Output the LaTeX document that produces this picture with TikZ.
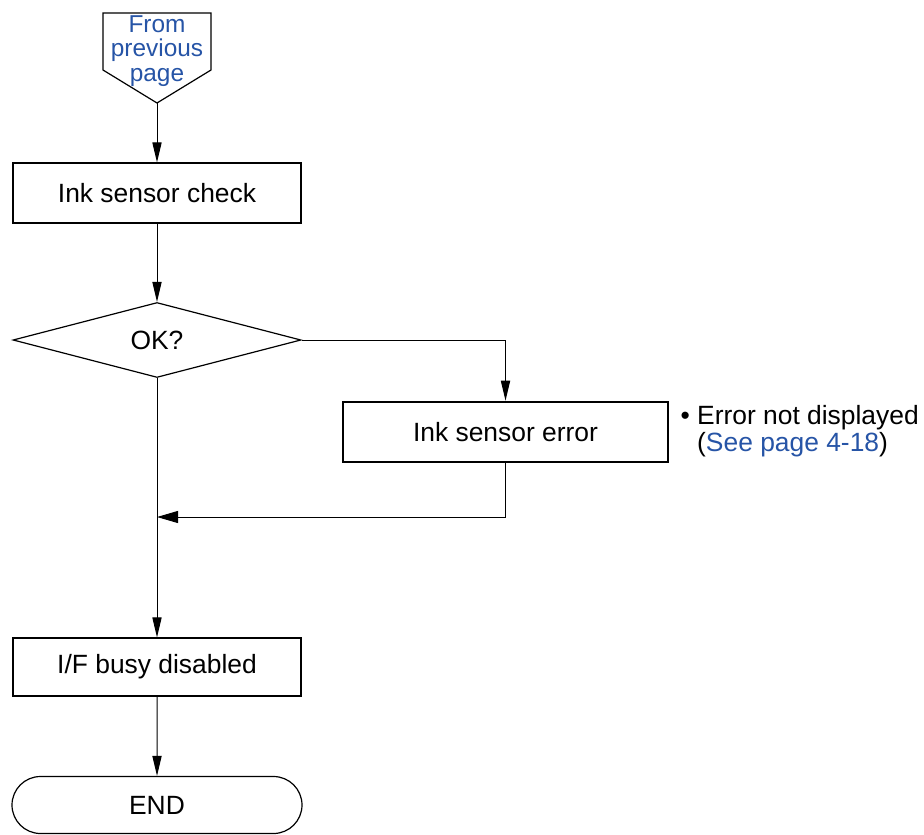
\documentclass[tikz,border=0pt]{standalone}
\usepackage{fontspec}
\setmainfont{Liberation Sans}
\usetikzlibrary{shapes.geometric,shapes.misc,arrows.meta}
\definecolor{linkblue}{RGB}{38,84,166}
\begin{document}
\begin{tikzpicture}[
       x=0.5pt,y=-0.5pt,
       line width=0.6pt,
       font=\fontsize{13.2}{12.3}\selectfont,
       flow/.style={
         -{Triangle[length=10pt,width=4.6pt]},
         line width=0.5pt
       },
       stepbox/.style={
         rectangle,
         draw,
         inner sep=0pt,
         minimum width=144pt,
         minimum height=30pt
       },
       test/.style={
         diamond,
         draw,
         inner sep=0pt,
         minimum width=144pt,
         minimum height=37.5pt
       },
       term/.style={
         rounded rectangle,
         draw,
         inner sep=0pt,
         minimum width=145pt,
         minimum height=28.5pt
       }
     ]

       \useasboundingbox (0,0) rectangle (924,834);

       % connector from previous page
       \draw (103,13) -- (211,13) -- (211,70) -- (157,103) -- (103,70) -- cycle;
       \node (prev) at (157,51) [align=center,text=linkblue,font=\fontsize{12.2}{12.3}\selectfont]{From\\previous\\page};
       \coordinate (tip) at (157,103);

       \node (chk) at (157,193) [stepbox]{Ink sensor check};
       \node (ok) at (157,340) [test]{OK?};
       \node (err) at (505.5,432) [stepbox,minimum width=162.5pt,line width=1.3pt]{Ink sensor error};
       \node (note) at (680,431) [anchor=west,align=left,inner sep=0pt]
         {\textbullet\ Error not displayed\\
          \phantom{\textbullet\ }(\textcolor{linkblue}{See page 4-18})};
       \coordinate (join) at (157,517);
       \node (busy) at (157,667) [stepbox,minimum height=29pt]{I/F busy disabled};
       \node (endn) at (157,805) [term]{END};

       \draw[flow] (tip) -- (chk);
       \draw[flow] (chk) -- (ok);
       \draw[flow] (ok.east) -| (err.north);
       \draw[flow,-{Triangle[length=10.5pt,width=6pt]}] (err.south) |- (join);
       \draw[flow] (ok.south) -- (busy.north);
       \draw[flow] (busy) -- (endn);

\end{tikzpicture}
\end{document}
